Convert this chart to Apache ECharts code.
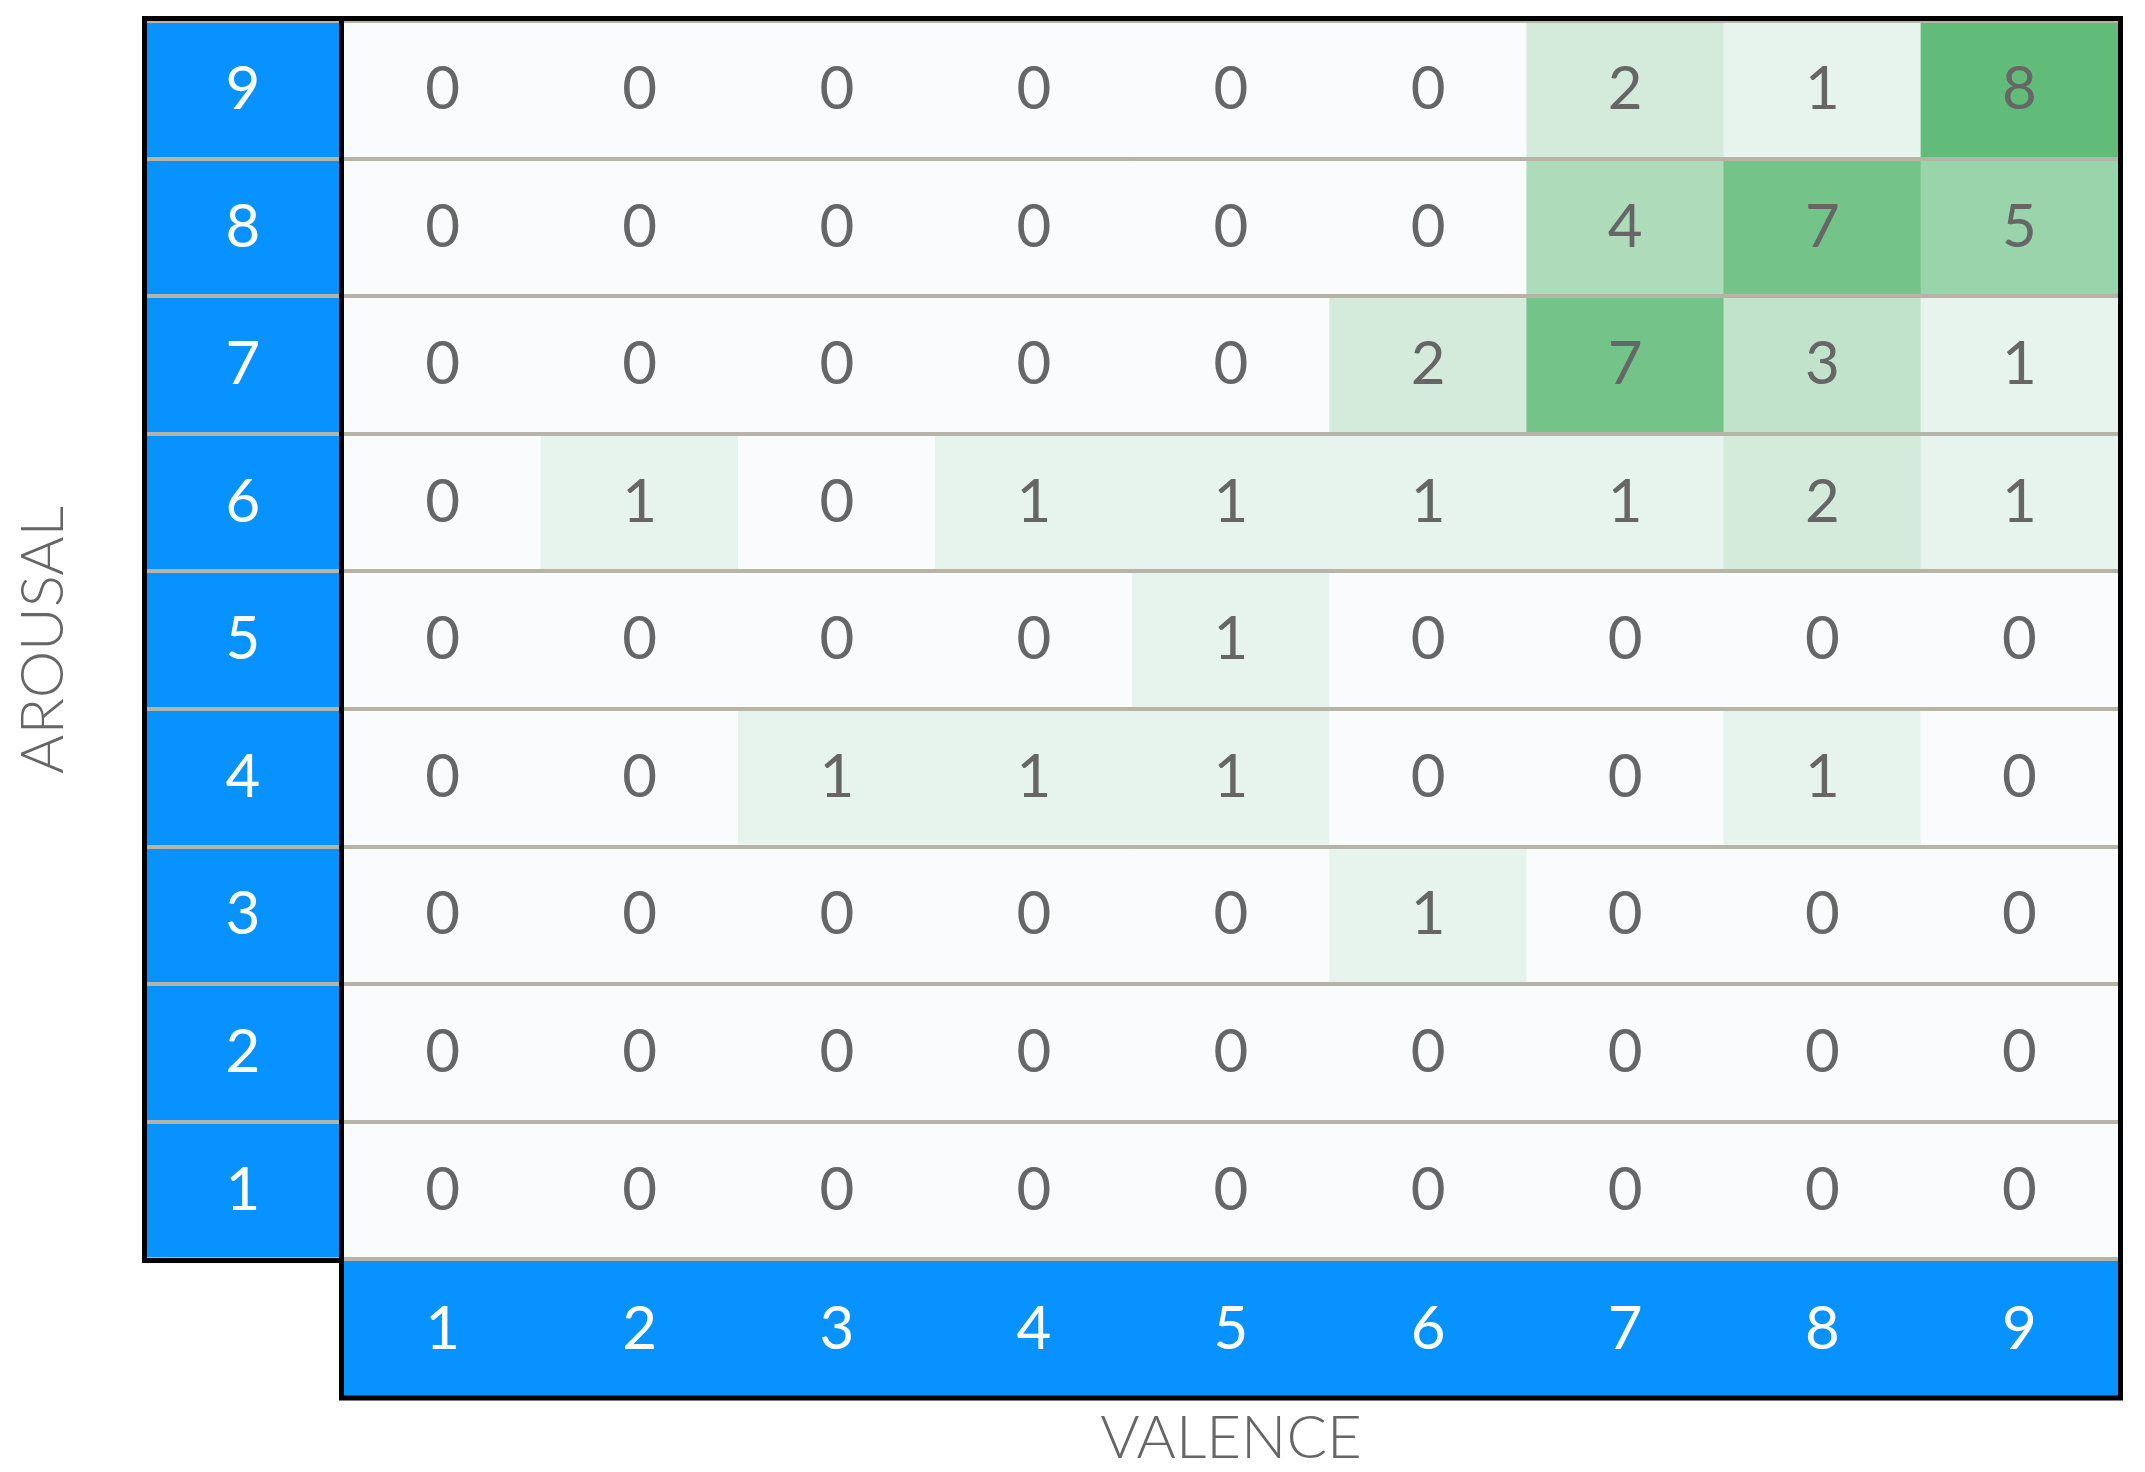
<!DOCTYPE html>
<html>
<head>
<meta charset="utf-8">
<script src="https://cdn.jsdelivr.net/npm/echarts@6/dist/echarts.min.js"></script>
<style>
  html, body { margin: 0; padding: 0; background: #fff; }
  #main { width: 2145px; height: 1472px; }
</style>
</head>
<body>
<div id="main"></div>
<script>
// 坐标轴类目
const valence = ['1', '2', '3', '4', '5', '6', '7', '8', '9'];
const arousal = ['1', '2', '3', '4', '5', '6', '7', '8', '9'];

// 每一行的计数 (arousal 1 -> 9), 列为 valence 1 -> 9
const row1 = [0, 0, 0, 0, 0, 0, 0, 0, 0];
const row2 = [0, 0, 0, 0, 0, 0, 0, 0, 0];
const row3 = [0, 0, 0, 0, 0, 1, 0, 0, 0];
const row4 = [0, 0, 1, 1, 1, 0, 0, 1, 0];
const row5 = [0, 0, 0, 0, 1, 0, 0, 0, 0];
const row6 = [0, 1, 0, 1, 1, 1, 1, 2, 1];
const row7 = [0, 0, 0, 0, 0, 2, 7, 3, 1];
const row8 = [0, 0, 0, 0, 0, 0, 4, 7, 5];
const row9 = [0, 0, 0, 0, 0, 0, 2, 1, 8];
const rows = [row1, row2, row3, row4, row5, row6, row7, row8, row9];

// 组装成 heatmap 需要的 [x, y, value]
const data = [];
rows.forEach((row, y) => {
    row.forEach((v, x) => data.push([x, y, v]));
});

const font = 'Lato, "DejaVu Sans", sans-serif';
const blue = '#0892FF';
const sep = '#B5B4A7';

const chartDom = document.getElementById('main');
const myChart = echarts.init(chartDom);

const option = {
    animation: false,
    // v6 默认会把标签挤进画布, 这里关掉, 按像素摆放
    grid: { left: 344, right: 27, top: 21, bottom: 213, containLabel: false, outerBoundsMode: 'none' },
    xAxis: {
        type: 'category',
        data: valence,
        name: 'VALENCE',
        nameLocation: 'middle',
        nameGap: 150,
        nameTextStyle: { color: '#666', fontSize: 60, fontFamily: font, fontWeight: 300 },
        axisLine: { show: false },
        axisTick: { show: false },
        splitLine: { show: false },
        axisLabel: {
            color: '#fff', fontSize: 60, fontFamily: font,
            margin: 71, verticalAlign: 'middle'
        },
        z: 3
    },
    yAxis: {
        type: 'category',
        data: arousal,
        name: 'AROUSAL',
        nameLocation: 'middle',
        nameGap: 270,
        nameRotate: 90,
        nameTextStyle: { color: '#666', fontSize: 60, fontFamily: font, fontWeight: 300 },
        axisLine: { show: false },
        // 刻度线当作左侧蓝色栏里的分隔线
        axisTick: { show: true, length: 197, lineStyle: { color: sep, width: 4 } },
        splitLine: { show: true, lineStyle: { color: sep, width: 4 } },
        axisLabel: {
            color: '#fff', fontSize: 60, fontFamily: font,
            margin: 101, align: 'center'
        },
        z: 3
    },
    visualMap: {
        show: false,
        min: 0,
        max: 8,
        inRange: { color: ['#FAFBFD', '#61BC79'] }
    },
    graphic: [
        // 蓝色坐标栏
        { type: 'rect', z: 0, shape: { x: 142, y: 16, width: 202, height: 1247 }, style: { fill: blue } },
        { type: 'rect', z: 0, shape: { x: 339, y: 1259, width: 1784, height: 141 }, style: { fill: blue } },
        // 黑色外框
        { type: 'rect', z: 10, shape: { x: 144.5, y: 18.5, width: 197, height: 1242 }, style: { fill: null, stroke: '#000', lineWidth: 5 } },
        { type: 'rect', z: 10, shape: { x: 341.5, y: 18.5, width: 1779, height: 1379.5 }, style: { fill: null, stroke: '#000', lineWidth: 5 } }
    ],
    series: [
        {
            type: 'heatmap',
            data: data,
            label: {
                show: true,
                color: '#666',
                fontSize: 60,
                fontFamily: font
            },
            emphasis: { disabled: true }
        }
    ]
};

option && myChart.setOption(option);
</script>
</body>
</html>
